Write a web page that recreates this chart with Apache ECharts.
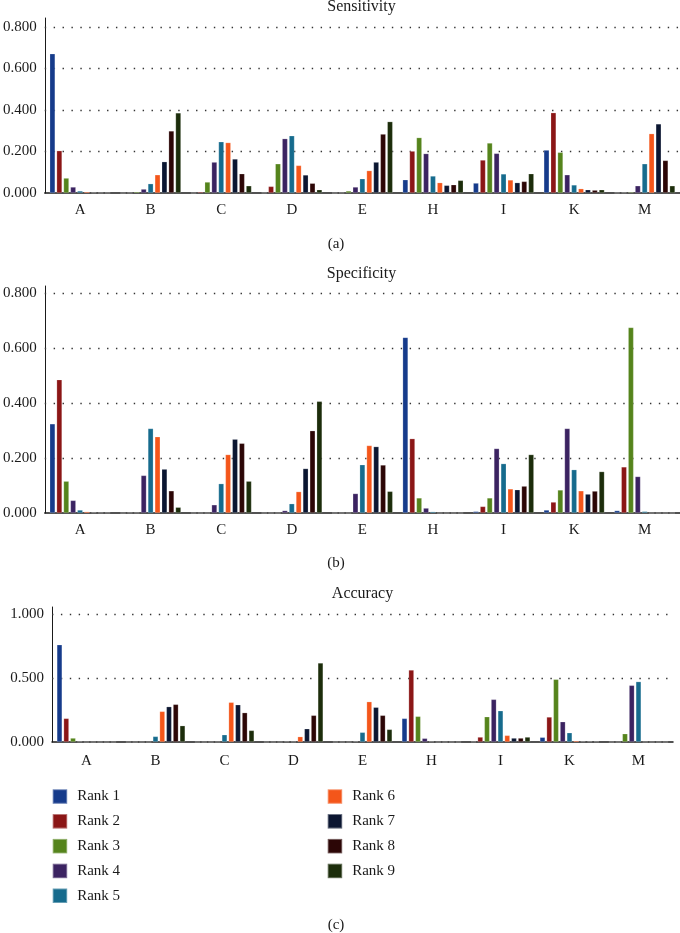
<!DOCTYPE html>
<html><head><meta charset="utf-8">
<script src="https://cdn.jsdelivr.net/npm/echarts@6/dist/echarts.min.js"></script>
<style>html,body{margin:0;padding:0;background:#fff}#c{width:680px;height:933px}</style>
</head><body><div id="c"></div>
<script>
const categories = ['A','B','C','D','E','H','I','K','M'];
const rankNames = ['Rank 1','Rank 2','Rank 3','Rank 4','Rank 5','Rank 6','Rank 7','Rank 8','Rank 9'];
const rankColors = ['#163b8b','#8b1616','#55841c','#3b2361','#166b8d','#f4561a','#0b1631','#2c0606','#1c2d0b'];

// rows = Rank 1..9, columns = categories A..M
const sensitivity = [
  [0.671,0.000,0.000,0.001,0.000,0.064,0.048,0.207,0.001],
  [0.204,0.001,0.006,0.032,0.001,0.202,0.159,0.387,0.002],
  [0.072,0.006,0.053,0.141,0.010,0.267,0.241,0.196,0.005],
  [0.029,0.019,0.149,0.262,0.029,0.190,0.191,0.088,0.035],
  [0.010,0.045,0.247,0.276,0.069,0.082,0.092,0.039,0.141],
  [0.006,0.088,0.243,0.133,0.108,0.050,0.063,0.021,0.286],
  [0.002,0.151,0.164,0.087,0.149,0.037,0.050,0.016,0.333],
  [0.001,0.299,0.093,0.047,0.284,0.040,0.056,0.014,0.157],
  [0.001,0.386,0.035,0.016,0.344,0.061,0.093,0.016,0.035]
];
const specificity = [
  [0.325,0.000,0.000,0.000,0.000,0.640,0.006,0.011,0.009],
  [0.486,0.001,0.000,0.000,0.000,0.271,0.024,0.040,0.168],
  [0.116,0.001,0.000,0.000,0.000,0.055,0.055,0.084,0.676],
  [0.046,0.137,0.030,0.009,0.071,0.018,0.235,0.308,0.133],
  [0.011,0.308,0.107,0.034,0.176,0.005,0.180,0.158,0.006],
  [0.005,0.278,0.213,0.078,0.246,0.000,0.088,0.081,0.000],
  [0.002,0.160,0.269,0.162,0.242,0.000,0.085,0.069,0.000],
  [0.001,0.081,0.254,0.300,0.175,0.000,0.098,0.080,0.000],
  [0.001,0.021,0.116,0.407,0.079,0.000,0.213,0.151,0.000]
];
const accuracy = [
  [0.762,0.000,0.000,0.000,0.000,0.185,0.002,0.037,0.000],
  [0.185,0.000,0.000,0.000,0.000,0.564,0.039,0.196,0.000],
  [0.031,0.000,0.000,0.000,0.000,0.201,0.198,0.491,0.065],
  [0.003,0.000,0.001,0.003,0.005,0.029,0.334,0.159,0.444],
  [0.000,0.044,0.057,0.002,0.076,0.003,0.245,0.073,0.473],
  [0.000,0.240,0.311,0.042,0.316,0.000,0.052,0.010,0.001],
  [0.000,0.277,0.292,0.104,0.272,0.000,0.031,0.005,0.000],
  [0.000,0.295,0.230,0.209,0.209,0.000,0.031,0.004,0.000],
  [0.000,0.128,0.091,0.619,0.099,0.000,0.039,0.003,0.000]
];
const panelTitles = ['Sensitivity','Specificity','Accuracy'];
const panelCaptions = ['(a)','(b)','(c)'];
const yTickLines = [[0.2,0.4,0.6,0.8],[0.2,0.4,0.6,0.8],[0.5,1.0]];

const FONT = '"Liberation Serif", "DejaVu Serif", serif';
const panels = [sensitivity, specificity, accuracy];
const grids = [
  {left:43, top:18, width:637, height:175},
  {left:43, top:286, width:637, height:227},
  {left:52, top:607, width:621, height:135}
];
const yMax = [0.843, 0.827, 1.057];
const yInterval = [0.2, 0.2, 0.5];

const xAxes = grids.map((g,i)=>({
  type:'category', gridIndex:i, data:categories,
  axisLine:{show:true, lineStyle:{color:'#1a1a1a', width:1.5}},
  axisTick:{show:false},
  axisLabel:{fontFamily:FONT, fontSize:15, color:'#1a1a1a', margin: i===2?12:10}
}));
const yAxes = grids.map((g,i)=>({
  type:'value', gridIndex:i, min:0, max:yMax[i], interval:yInterval[i],
  axisLine:{show:true, lineStyle:{color:'#1a1a1a', width:1}},
  axisTick:{show:false},
  splitLine:{show:false},
  axisLabel:{fontFamily:FONT, fontSize:15, color:'#1a1a1a', margin:8, showMaxLabel:false,
    formatter:v=>v.toFixed(3)}
}));

const series = [];
panels.forEach((panel,pi)=>{
  panel.forEach((row,ri)=>{
    const s = {
      type:'bar', name:rankNames[ri], xAxisIndex:pi, yAxisIndex:pi, data:row,
      barGap:'26%', barCategoryGap:'14%',
      itemStyle:{color:rankColors[ri], borderColor:'rgba(255,255,255,0.35)', borderWidth:0.6},
      animation:false
    };
    if (ri===0) {
      s.markLine = {
        silent:true, symbol:['none','none'], z:1, animation:false,
        label:{show:false},
        lineStyle:{type:[1.4,7.5], color:'#333', width:1.3},
        data: yTickLines[pi].map(v=>({yAxis:v}))
      };
    }
    series.push(s);
  });
});

const graphicTexts = [];
const titleY = [7, 274, 594];
const capY = [244, 563, 925];
grids.forEach((g,i)=>{
  graphicTexts.push({type:'text', x:g.left+g.width/2, y:titleY[i],
    style:{text:panelTitles[i], align:'center', verticalAlign:'middle', font:'16px '+FONT, fill:'#1a1a1a'}});
  graphicTexts.push({type:'text', x:336, y:capY[i],
    style:{text:panelCaptions[i], align:'center', verticalAlign:'middle', font:'15px '+FONT, fill:'#1a1a1a'}});
});

const legendBase = {
  orient:'vertical', icon:'rect', itemWidth:14.5, itemHeight:14.5, itemGap:8.3, padding:0,
  textStyle:{fontFamily:FONT, fontSize:15, color:'#1a1a1a', padding:[0,0,0,5], lineHeight:14.5},
  selectedMode:false, top:788.3
};
const option = {
  animation:false,
  grid:grids,
  xAxis:xAxes,
  yAxis:yAxes,
  series:series,
  legend:[
    Object.assign({}, legendBase, {left:51.7, data:rankNames.slice(0,5)}),
    Object.assign({}, legendBase, {left:326.7, data:rankNames.slice(5)})
  ],
  graphic:graphicTexts
};
const chart = echarts.init(document.getElementById('c'), null, {renderer:'canvas'});
chart.setOption(option);
</script>
</body></html>
